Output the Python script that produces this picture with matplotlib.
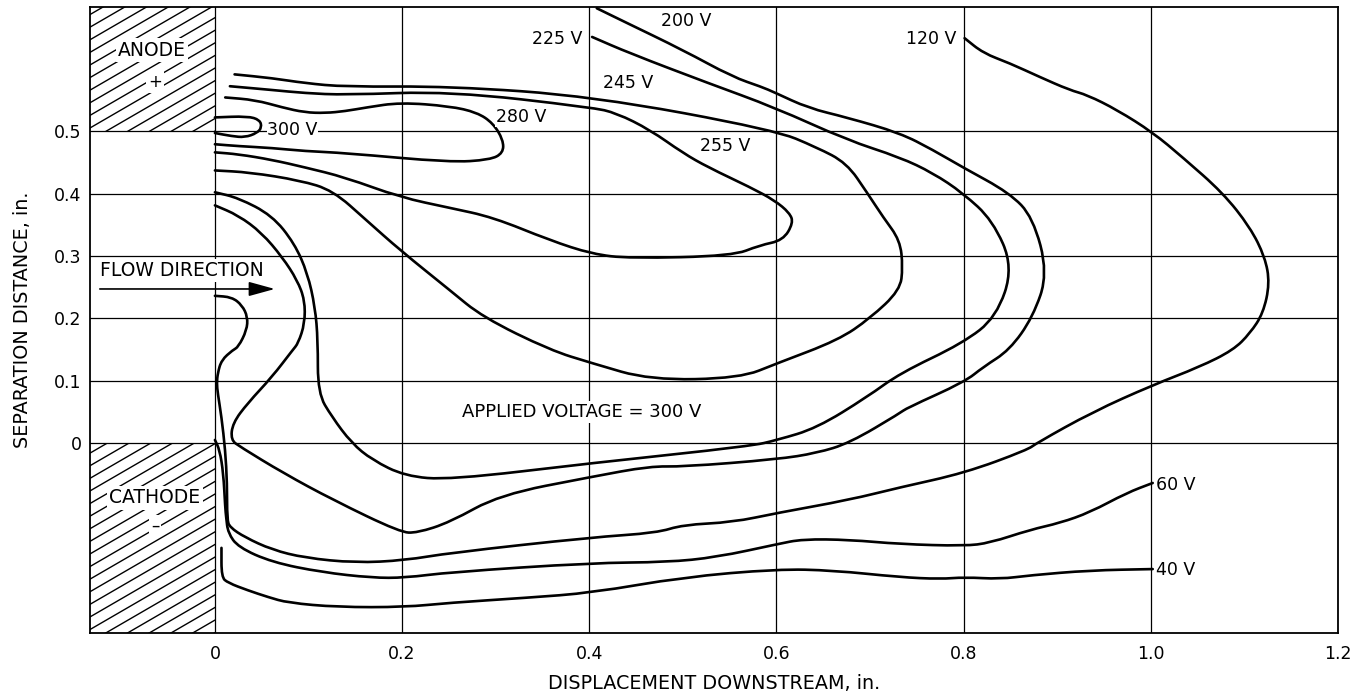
import matplotlib
matplotlib.use("Agg")
import matplotlib.pyplot as plt
from matplotlib.patches import Rectangle, PathPatch
from matplotlib.path import Path

# equipotential traces, x = displacement (in.), y = separation (in.)
v300_x = [0.0, 0.035, 0.048, 0.050, 0.045, 0.032, 0.018, 0.0]
v300_y = [0.522, 0.524, 0.518, 0.506, 0.497, 0.490, 0.492, 0.497]

v280_x = [0.011, 0.043, 0.072, 0.096, 0.118, 0.139, 0.162, 0.198, 0.251, 0.280,
          0.297, 0.308, 0.308, 0.294, 0.251, 0.139, 0.096, 0.061, 0.025, 0.0]
v280_y = [0.554, 0.550, 0.538, 0.530, 0.529, 0.532, 0.538, 0.546, 0.540, 0.530,
          0.513, 0.486, 0.465, 0.454, 0.450, 0.465, 0.468, 0.473, 0.476, 0.479]

v255_x = [0.016, 0.061, 0.096, 0.139, 0.251, 0.403, 0.429, 0.465, 0.500, 0.527,
          0.572, 0.598, 0.614, 0.618, 0.607, 0.582, 0.553, 0.443, 0.403, 0.358,
          0.297, 0.251, 0.198, 0.139, 0.096, 0.061, 0.025, 0.0]
v255_y = [0.572, 0.566, 0.561, 0.558, 0.564, 0.538, 0.529, 0.502, 0.465, 0.442,
          0.410, 0.389, 0.369, 0.353, 0.325, 0.317, 0.300, 0.296, 0.303, 0.325,
          0.362, 0.377, 0.394, 0.426, 0.442, 0.454, 0.463, 0.466]

v245_x = [0.021, 0.061, 0.096, 0.139, 0.251, 0.403, 0.598, 0.643, 0.675, 0.697,
          0.714, 0.732, 0.735, 0.732, 0.700, 0.666, 0.601, 0.561, 0.465, 0.403,
          0.358, 0.286, 0.251, 0.198, 0.162, 0.126, 0.091, 0.037, 0.0]
v245_y = [0.591, 0.585, 0.577, 0.571, 0.572, 0.556, 0.502, 0.474, 0.449, 0.401,
          0.362, 0.325, 0.282, 0.245, 0.200, 0.165, 0.128, 0.104, 0.101, 0.128,
          0.149, 0.202, 0.245, 0.309, 0.357, 0.405, 0.421, 0.434, 0.437]

v225_x = [0.403, 0.443, 0.527, 0.598, 0.675, 0.732, 0.767, 0.799, 0.831, 0.853,
          0.835, 0.799, 0.732, 0.697, 0.643, 0.601, 0.572, 0.403, 0.251, 0.203,
          0.168, 0.146, 0.125, 0.110, 0.110, 0.107, 0.099, 0.085, 0.061, 0.025, 0.0]
v225_y = [0.651, 0.625, 0.577, 0.538, 0.486, 0.458, 0.433, 0.401, 0.357, 0.282,
          0.202, 0.160, 0.112, 0.074, 0.024, 0.005, -0.005, -0.032, -0.059, -0.053,
          -0.027, 0.0, 0.042, 0.080, 0.165, 0.218, 0.272, 0.320, 0.365, 0.393, 0.402]

v200_x = [0.408, 0.438, 0.500, 0.553, 0.584, 0.598, 0.634, 0.675, 0.732, 0.767,
          0.799, 0.849, 0.874, 0.890, 0.874, 0.849, 0.821, 0.801, 0.739, 0.732,
          0.678, 0.643, 0.601, 0.500, 0.465, 0.403, 0.304, 0.251, 0.216, 0.198,
          0.126, 0.073, 0.027, 0.017, 0.019, 0.035, 0.061, 0.083, 0.089, 0.096,
          0.096, 0.088, 0.072, 0.050, 0.025, 0.0]
v200_y = [0.697, 0.675, 0.630, 0.587, 0.571, 0.562, 0.537, 0.522, 0.497, 0.470,
          0.442, 0.401, 0.362, 0.272, 0.202, 0.149, 0.122, 0.098, 0.056, 0.048,
          0.0, -0.016, -0.026, -0.038, -0.037, -0.054, -0.083, -0.127, -0.144, -0.143,
          -0.091, -0.048, -0.006, 0.005, 0.032, 0.064, 0.106, 0.149, 0.160, 0.192,
          0.229, 0.261, 0.298, 0.337, 0.365, 0.381]

v120_x = [0.801, 0.821, 0.849, 0.881, 0.913, 0.932, 0.964, 1.002, 1.034, 1.077,
          1.106, 1.122, 1.127, 1.120, 1.106, 1.088, 1.052, 1.002, 0.938, 0.878,
          0.868, 0.801, 0.732, 0.678, 0.601, 0.553, 0.500, 0.472, 0.403, 0.251,
          0.203, 0.150, 0.096, 0.061, 0.032, 0.016, 0.013, 0.013, 0.011, 0.007,
          0.003, 0.002, 0.003, 0.007, 0.019, 0.025, 0.034, 0.035, 0.029, 0.018, 0.0]
v120_y = [0.649, 0.625, 0.609, 0.587, 0.566, 0.558, 0.534, 0.498, 0.458, 0.401,
          0.346, 0.298, 0.256, 0.208, 0.176, 0.149, 0.122, 0.093, 0.050, 0.0,
          -0.011, -0.048, -0.071, -0.091, -0.112, -0.127, -0.131, -0.144, -0.151, -0.176,
          -0.188, -0.192, -0.184, -0.171, -0.151, -0.135, -0.123, -0.064, -0.011, 0.042,
          0.080, 0.096, 0.112, 0.133, 0.149, 0.154, 0.181, 0.202, 0.221, 0.234, 0.236]

v60_x = [0.0, 0.005, 0.009, 0.011, 0.012, 0.014, 0.025, 0.061, 0.114, 0.168,
         0.203, 0.251, 0.403, 0.483, 0.536, 0.601, 0.628, 0.678, 0.732, 0.801,
         0.828, 0.871, 0.903, 0.935, 0.974, 1.002]
v60_y = [0.005, -0.011, -0.048, -0.103, -0.119, -0.144, -0.167, -0.191, -0.207, -0.216,
         -0.216, -0.207, -0.192, -0.191, -0.183, -0.162, -0.154, -0.155, -0.162, -0.165,
         -0.160, -0.139, -0.128, -0.111, -0.080, -0.064]

v40_x = [0.007, 0.007, 0.014, 0.035, 0.057, 0.078, 0.131, 0.203, 0.251, 0.333,
         0.403, 0.500, 0.601, 0.660, 0.732, 0.775, 0.801, 0.839, 0.871, 0.935, 1.002]
v40_y = [-0.168, -0.215, -0.224, -0.236, -0.247, -0.256, -0.263, -0.263, -0.256, -0.248,
         -0.240, -0.215, -0.202, -0.204, -0.215, -0.218, -0.215, -0.218, -0.212, -0.204, -0.202]

x_ticks = [0, 0.2, 0.4, 0.6, 0.8, 1.0, 1.2]
x_ticklabels = ["0", "0.2", "0.4", "0.6", "0.8", "1.0", "1.2"]
y_ticks = [0, 0.1, 0.2, 0.3, 0.4, 0.5]
y_ticklabels = ["0", "0.1", "0.2", "0.3", "0.4", "0.5"]

XMIN, XMAX = -0.1335, 1.2
YMIN, YMAX = -0.304, 0.699

plt.rcParams['font.family'] = ['DejaVu Sans']

fig = plt.figure(figsize=(13.51, 6.93), dpi=100)
ax = fig.add_axes([0.0666, 0.0870, 0.9238, 0.9029])
ax.set_xlim(XMIN, XMAX)
ax.set_ylim(YMIN, YMAX)

ax.set_xticks(x_ticks)
ax.set_xticklabels(x_ticklabels, fontsize=12.5)
ax.set_yticks(y_ticks)
ax.set_yticklabels(y_ticklabels, fontsize=12.5)
ax.tick_params(axis='x', length=0, pad=9)
ax.tick_params(axis='y', length=0, pad=6)
ax.grid(True, color='black', lw=0.9)
ax.set_axisbelow(True)
for s in ax.spines.values():
    s.set_linewidth(1.3)

ax.set_xlabel("DISPLACEMENT DOWNSTREAM, in.", fontsize=13.8, labelpad=8)
ax.set_ylabel("SEPARATION DISTANCE, in.", fontsize=13.8, labelpad=16)


# electrodes: hatched boxes left of x = 0
def hatch_box(y0, y1):
    rect = Rectangle((XMIN, y0), 0 - XMIN, y1 - y0, fill=False, lw=0)
    ax.add_patch(rect)
    slope = 0.87
    w = 0 - XMIN
    c = y0 - slope * w
    while c < y1:
        ln, = ax.plot([XMIN, 0], [c, c + slope * w], color='black', lw=1.0, zorder=1)
        ln.set_clip_path(rect)
        c += 0.0202


hatch_box(0.5, YMAX)
hatch_box(YMIN, 0.0)

box = dict(facecolor='white', edgecolor='none', pad=1.5)
ax.text(-0.067, 0.630, "ANODE", fontsize=13.5, ha='center', va='center', bbox=box, zorder=5)
ax.text(-0.064, 0.578, "+", fontsize=12, ha='center', va='center', bbox=box, zorder=5)
ax.text(-0.064, -0.088, "CATHODE", fontsize=13.5, ha='center', va='center', bbox=box, zorder=5)
ax.text(-0.064, -0.133, "\u2013", fontsize=12, ha='center', va='center', bbox=box, zorder=5)


# smooth drawing of a traced contour: quadratic pieces through the segment midpoints
def contour_path(xs, ys):
    pts = list(zip(xs, ys))
    verts = [pts[0]]
    codes = [Path.MOVETO]
    if len(pts) > 2:
        verts.append(((pts[0][0] + pts[1][0]) / 2, (pts[0][1] + pts[1][1]) / 2))
        codes.append(Path.LINETO)
        for i in range(1, len(pts) - 1):
            nx = (pts[i][0] + pts[i + 1][0]) / 2
            ny = (pts[i][1] + pts[i + 1][1]) / 2
            verts += [pts[i], (nx, ny)]
            codes += [Path.CURVE3, Path.CURVE3]
    verts.append(pts[-1])
    codes.append(Path.LINETO)
    return Path(verts, codes)


for cx, cy in [(v300_x, v300_y), (v280_x, v280_y), (v255_x, v255_y), (v245_x, v245_y),
               (v225_x, v225_y), (v200_x, v200_y), (v120_x, v120_y), (v60_x, v60_y),
               (v40_x, v40_y)]:
    ax.add_patch(PathPatch(contour_path(cx, cy), facecolor='none', edgecolor='black',
                           lw=1.9, joinstyle='round', capstyle='round', zorder=3))

lab = dict(fontsize=12.5, va='center', bbox=dict(facecolor='white', edgecolor='none', pad=0.5), zorder=4)
ax.text(0.083, 0.502, "300 V", ha='center', **lab)
ax.text(0.327, 0.522, "280 V", ha='center', **lab)
ax.text(0.545, 0.476, "255 V", ha='center', **lab)
ax.text(0.441, 0.577, "245 V", ha='center', **lab)
ax.text(0.366, 0.647, "225 V", ha='center', **lab)
ax.text(0.504, 0.676, "200 V", ha='center', **lab)
ax.text(0.765, 0.647, "120 V", ha='center', **lab)
ax.text(1.006, -0.067, "60 V", ha='left', **lab)
ax.text(1.006, -0.204, "40 V", ha='left', **lab)

ax.text(0.264, 0.050, "APPLIED VOLTAGE = 300 V", fontsize=13, ha='left', va='center',
        bbox=box, zorder=5)
ax.text(-0.123, 0.277, "FLOW DIRECTION", fontsize=13.5, ha='left', va='center',
        bbox=box, zorder=5)
ax.annotate("", xy=(0.064, 0.247), xytext=(-0.123, 0.247),
            arrowprops=dict(arrowstyle='-|>,head_length=0.8,head_width=0.22',
                            mutation_scale=20, color='black', lw=1.2,
                            shrinkA=0, shrinkB=0), zorder=5)

fig.savefig("out.png", dpi=100)
